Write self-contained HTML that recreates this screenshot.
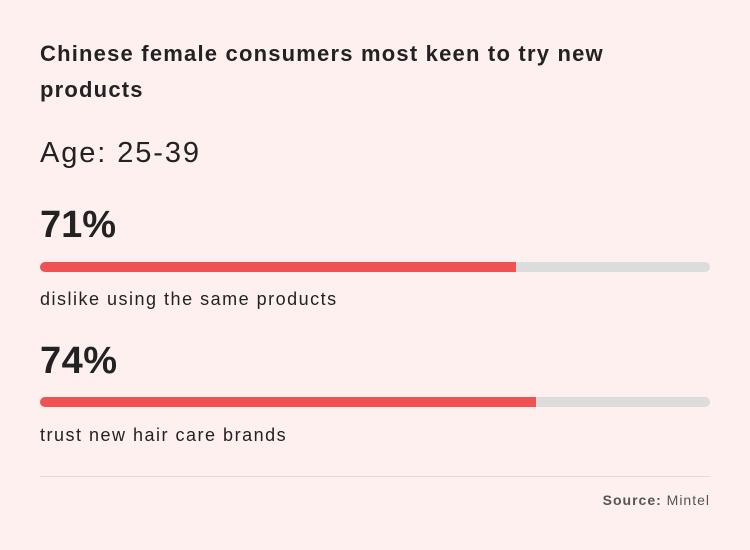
<!DOCTYPE html>
<html><head><meta charset="utf-8"><style>
body{margin:0;width:750px;height:550px;background:#fff0f0;font-family:"Liberation Sans",sans-serif;color:#222;position:relative;overflow:hidden}
.a{position:absolute;left:40px;white-space:nowrap}
.bar{position:absolute;left:40px;width:670px;height:10px;border-radius:5px;background:#dcdcdc;overflow:hidden}
.bar i{display:block;height:100%;background:#ee5253}
</style></head><body>
<div class="a" style="top:36px;font-size:22px;font-weight:bold;line-height:36px;width:620px;white-space:normal;letter-spacing:1.2px">Chinese female consumers most keen to try new products</div>
<div class="a" style="top:137px;font-size:29px;letter-spacing:1.9px">Age: 25-39</div>
<div class="a" style="top:204px;font-size:38px;font-weight:bold">71%</div>
<div class="bar" style="top:262px"><i style="width:476px"></i></div>
<div class="a" style="top:289px;font-size:18px;letter-spacing:1.5px">dislike using the same products</div>
<div class="a" style="top:340px;font-size:38px;font-weight:bold;letter-spacing:0.5px">74%</div>
<div class="bar" style="top:397px"><i style="width:496px"></i></div>
<div class="a" style="top:425px;font-size:18px;letter-spacing:1.5px">trust new hair care brands</div>
<div style="position:absolute;left:40px;width:670px;top:476px;border-top:1px solid #ddd"></div>
<div style="position:absolute;right:40px;top:492px;font-size:14px;color:#555;letter-spacing:1px"><b>Source:</b> Mintel</div>
</body></html>
